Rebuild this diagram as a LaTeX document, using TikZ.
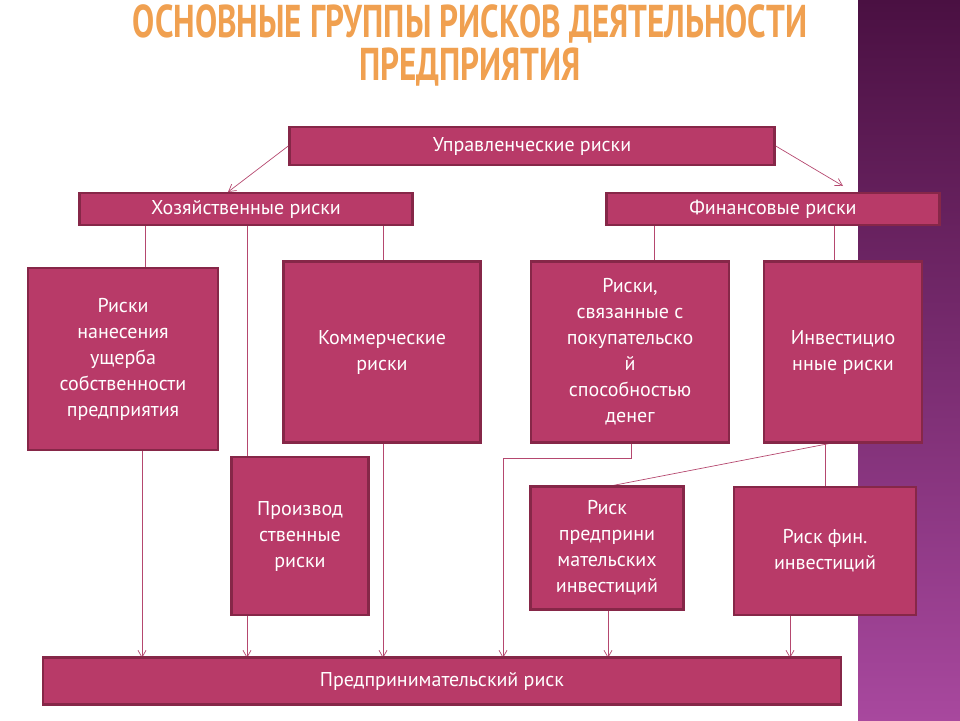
\documentclass[tikz,border=0pt]{standalone}
\usepackage{fontspec}
\setmainfont{PT Sans}
\usetikzlibrary{arrows.meta}
\definecolor{boxfill}{HTML}{B83A68}
\definecolor{boxline}{HTML}{862748}
\definecolor{linkc}{HTML}{B5486F}
\definecolor{titlec}{HTML}{F0A050}
\definecolor{stripetop}{HTML}{4A1042}
\definecolor{stripebot}{HTML}{A8489E}
\begin{document}
\begin{tikzpicture}[x=1pt,y=-1pt]
  \tikzset{risk/.style 2 args={draw=boxline, fill=boxfill, line width=2.5pt, text=white,
      font=\fontsize{20}{26}\selectfont, align=center, minimum width=#1, minimum height=#2, inner sep=2pt},
    link/.style={draw=linkc, line width=0.7pt},
    arr/.style={link, -{Straight Barb[length=7pt,width=8pt]}}};
  \useasboundingbox (0,0) rectangle (960,720);
  % side stripe
  \shade[top color=stripetop, bottom color=stripebot] (858,0) rectangle (960,720);
  % title
  \node[text=titlec, font=\fontsize{46}{43}\selectfont\bfseries, align=center, xscale=0.72] (title) at (470,45)
    {ОСНОВНЫЕ ГРУППЫ РИСКОВ ДЕЯТЕЛЬНОСТИ\\ПРЕДПРИЯТИЯ};

  \coordinate (h1) at (145,225); \coordinate (h2) at (247,225); \coordinate (h3) at (383,225);
  \coordinate (f1) at (654,225); \coordinate (f2) at (834,225);
  \coordinate (b1) at (142,658); \coordinate (b2) at (247,658); \coordinate (b3) at (383,658);
  \coordinate (b4) at (503,658); \coordinate (b5) at (608,658); \coordinate (b6) at (790,658);
  \coordinate (k1) at (631,458); \coordinate (k2) at (503,458);
  \coordinate (i1) at (832,443); \coordinate (i2) at (605,487);
  \coordinate (i3) at (825,443); \coordinate (i4) at (825,487);
  \coordinate (hx) at (228,192); \coordinate (fx) at (843,186);

  % connectors behind boxes
  \draw[link] (h1) -- (145,268);
  \draw[arr] (h2) -- (b2);
  \draw[arr] (h3) -- (b3);
  \draw[link] (f1) -- (654,262);
  \draw[link] (f2) -- (834,262);
  \draw[arr] (142,450) -- (b1);
  \draw[arr] (631,443) -- (k1) -- (k2) -- (b4);
  \draw[link] (i1) -- (i2);
  \draw[link] (i3) -- (i4);
  \draw[arr] (608,610) -- (b5);
  \draw[arr] (790,615) -- (b6);

  \node[risk={485pt}{38pt}] (upr) at (532,146) {Управленческие риски};
  \node[risk={333pt}{32pt}] (hoz) at (246,209) {Хозяйственные риски};
  \node[risk={333pt}{32pt}] (fin) at (773,209) {Финансовые риски};
  \node[risk={190pt}{182pt}] (usch) at (123,359) {Риски\\нанесения\\ущерба\\собственности\\предприятия};
  \node[risk={197pt}{181pt}] (komm) at (382,352) {Коммерческие\\риски};
  \node[risk={198pt}{181pt}] (pok) at (630,352) {Риски,\\связанные с\\покупательско\\й\\способностью\\денег};
  \node[risk={158pt}{181pt}] (inv) at (843,352) {Инвестицио\\нные риски};
  \node[risk={137pt}{158pt}] (proiz) at (300,536) {Производ\\ственные\\риски};
  \node[risk={153pt}{123pt}] (pred) at (607,548) {Риск\\предприни\\мательских\\инвестиций};
  \node[risk={182pt}{128pt}] (fininv) at (825,551) {Риск фин.\\инвестиций};
  \node[risk={798pt}{47pt}] (itog) at (442,681) {Предпринимательский риск};

  \draw[arr] (upr.west) -- (hx);
  \draw[arr] (upr.east) -- (fx);
\end{tikzpicture}
\end{document}
